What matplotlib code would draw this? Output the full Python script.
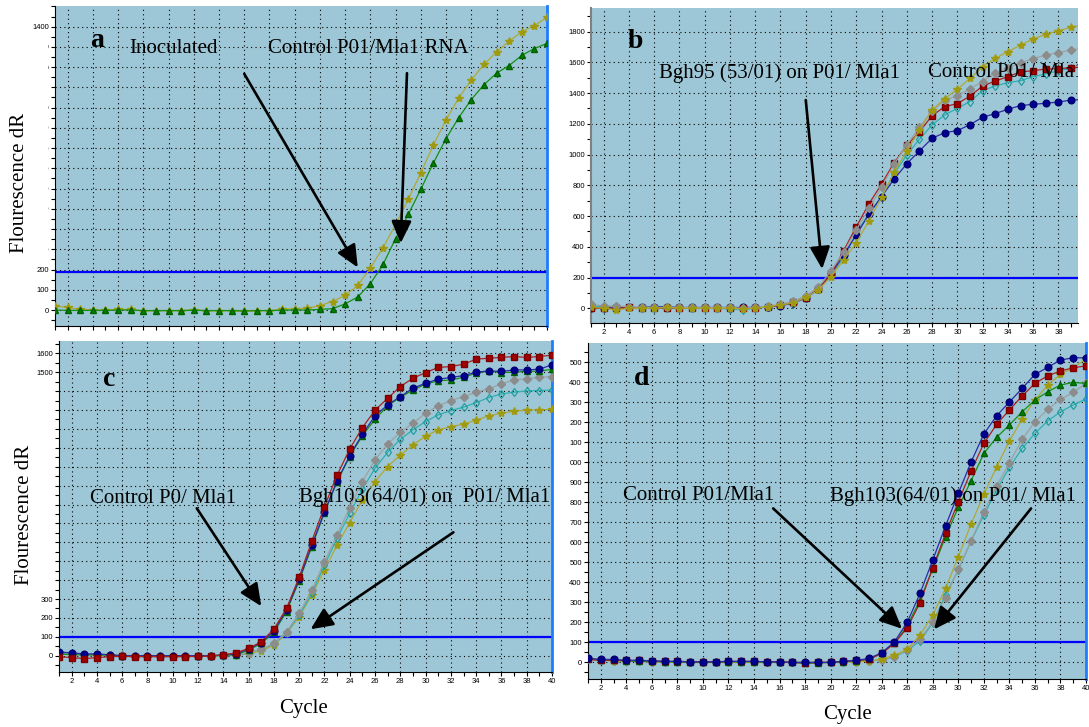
import numpy as np
import matplotlib
matplotlib.use("Agg")
import matplotlib.pyplot as plt
from matplotlib.patches import Rectangle
from matplotlib.ticker import MultipleLocator

# ----------
# DONNEES

cycles = np.arange(1, 41)

# panneau a
a_olive = [20, 13, 3, 0, 0, 3, 3, -5, -3, -3, -3, 2, -5, -3, -3, -7, -3, -3, 3, 7,
           8, 22, 42, 73, 122, 208, 308, 423, 547, 678, 817, 940, 1047, 1137, 1213,
           1275, 1328, 1375, 1405, 1447]
a_green = [0, -2, -2, -2, -2, 0, 0, -3, -3, -3, -3, -1, -3, -3, -3, -5, -3, -3, -1, 0,
           0, 3, 7, 30, 65, 130, 225, 353, 472, 597, 727, 847, 950, 1040, 1113,
           1170, 1208, 1258, 1292, 1317]

# panneau b
b_olive = [5, 0, -10, 0, 0, 0, 5, 0, 0, 0, 0, 0, -5, 0, 10, 20, 35, 70, 119, 206,
           314, 427, 568, 722, 885, 1026, 1160, 1290, 1364, 1425, 1496, 1572, 1627,
           1670, 1713, 1752, 1783, 1806, 1828, 1845]
b_gray = [25, 15, 15, 10, 5, 5, 5, 5, 5, 5, 5, 5, 0, 5, 15, 25, 45, 80, 137, 245,
          364, 510, 651, 787, 939, 1063, 1178, 1284, 1355, 1381, 1429, 1475, 1533,
          1561, 1598, 1624, 1648, 1663, 1681, 1692]
b_red = [0, 0, 0, 5, 0, 0, 0, 0, 0, 0, 0, 0, 0, 0, 10, 20, 40, 69, 124, 223,
         375, 531, 679, 809, 948, 1060, 1149, 1253, 1312, 1332, 1381, 1446, 1479,
         1507, 1538, 1546, 1557, 1559, 1566, 1570]
b_navy = [0, 0, 5, 5, 5, 10, 10, 5, 5, 5, 5, 5, 5, 5, 10, 15, 35, 65, 124, 223,
          347, 477, 612, 727, 841, 941, 1024, 1106, 1143, 1156, 1195, 1243, 1267,
          1295, 1319, 1327, 1334, 1342, 1355, 1358]
b_teal = [15, 10, 10, 5, 0, 0, 0, 0, 0, 0, 0, -5, -10, 0, 10, 20, 30, 70, 128, 215,
          332, 488, 618, 727, 874, 998, 1100, 1193, 1258, 1301, 1345, 1416, 1447,
          1468, 1481, 1507, 1525, 1546, 1561, 1570]

# panneau c
c_red = [-5, -10, -15, -10, -5, -3, -5, -5, -5, -5, -5, -3, -3, 5, 15, 39, 74, 141,
         251, 415, 607, 789, 955, 1094, 1207, 1299, 1362, 1424, 1468, 1498, 1525,
         1530, 1542, 1569, 1574, 1578, 1583, 1578, 1583, 1590]
c_navy = [20, 15, 10, 10, 5, 0, 0, 0, 0, 0, 0, 0, 0, 5, 10, 35, 69, 131, 242, 404,
          586, 762, 925, 1059, 1172, 1269, 1327, 1371, 1415, 1442, 1463, 1472, 1482,
          1500, 1507, 1504, 1512, 1512, 1516, 1539]
c_green = [10, 5, 5, 5, 3, 0, -3, 0, 0, 0, 0, 0, 0, 3, 5, 30, 65, 124, 233, 397,
           577, 757, 921, 1054, 1165, 1251, 1322, 1368, 1405, 1438, 1454, 1459, 1473,
           1496, 1505, 1498, 1500, 1505, 1505, 1516]
c_gray = [20, 10, 5, 5, 5, 3, 0, 0, 0, -3, -3, 0, 0, 3, 5, 16, 34, 65, 127, 224,
          348, 498, 639, 784, 921, 1036, 1121, 1181, 1230, 1283, 1322, 1350, 1371,
          1394, 1412, 1438, 1459, 1465, 1472, 1477]
c_teal = [15, 10, 5, 5, 3, 0, 0, 0, 0, -3, -3, 0, 0, 0, 3, 16, 34, 62, 122, 215,
          330, 480, 621, 754, 881, 992, 1076, 1145, 1195, 1239, 1274, 1297, 1315,
          1339, 1366, 1385, 1394, 1401, 1403, 1406]
c_olive = [15, 10, 5, 5, 3, 0, 0, 0, 0, -3, -3, 0, 0, 0, 3, 10, 26, 56, 118, 206,
           321, 454, 586, 704, 824, 921, 1001, 1062, 1115, 1163, 1195, 1212, 1225,
           1247, 1269, 1283, 1293, 1300, 1300, 1304]

# panneau d
d_navy = [20, 15, 15, 10, 10, 8, 5, 5, 3, 3, 3, 5, 5, 5, 3, 3, 0, 0, 0, 0,
          5, 10, 20, 48, 103, 200, 345, 512, 682, 845, 1002, 1142, 1233, 1302,
          1370, 1440, 1475, 1512, 1523, 1523]
d_red = [15, 10, 12, 10, 10, 8, 5, 5, 3, 3, 3, 5, 5, 5, 3, 3, 0, -3, 0, 0,
         5, 10, 15, 45, 95, 173, 298, 473, 645, 803, 957, 1095, 1190, 1262,
         1332, 1395, 1433, 1457, 1473, 1483]
d_green = [20, 12, 10, 8, 5, 5, 3, 3, 0, 0, 0, 3, 3, 3, 0, 0, 0, -5, -3, 0,
           3, 8, 15, 48, 95, 183, 312, 467, 628, 775, 908, 1045, 1125, 1187,
           1253, 1312, 1353, 1387, 1400, 1395]
d_olive = [15, 12, 8, 5, 5, 3, 3, 0, 0, 0, 0, 0, 0, 0, 0, 0, 0, 0, 0, 0,
           0, 3, 8, 15, 37, 65, 137, 237, 370, 528, 692, 840, 978, 1107,
           1217, 1312, 1387, 1440, 1473, 1517]
d_gray = [20, 12, 8, 5, 5, 3, 3, 0, 0, 0, 0, 0, 0, 0, 0, 0, 0, 0, 0, 0,
          0, 3, 8, 12, 28, 62, 117, 203, 323, 465, 608, 753, 882, 998,
          1115, 1203, 1265, 1315, 1350, 1395]
d_teal = [18, 12, 8, 5, 5, 3, 3, 0, 0, 0, 0, 0, 0, 0, 0, 0, 0, 0, 0, 0,
          0, 3, 8, 12, 28, 58, 108, 198, 337, 462, 607, 737, 862, 975,
          1070, 1145, 1207, 1253, 1287, 1317]

d_ylabels = ['0', '100', '200', '300', '400', '500', '600', '700', '800', '900',
             '000', '100', '200', '300', '400', '500']

# ----------
# STYLES

W, H = 1089, 727
BG = '#9dc7d6'
SERIF = 'Liberation Serif'

STYLES = {
    'red':   dict(color='#a82020', marker='s', mfc='#a00000', mec='#7a0000', ms=4.8),
    'navy':  dict(color='#2a2aa8', marker='o', mfc='#000090', mec='#000070', ms=4.8),
    'green': dict(color='#129012', marker='^', mfc='#008000', mec='#006000', ms=5),
    'gray':  dict(color='#a0a0a0', marker='D', mfc='#8c8c8c', mec='#8c8c8c', ms=3.8),
    'teal':  dict(color='#2eb0b0', marker='d', mfc='none', mec='#1a9a9a', ms=4.5, mew=0.8),
    'olive': dict(color='#b0a838', marker='*', mfc='#a09a10', mec='#a09a10', ms=6),
}


def px_axes(left, top, right, bottom):
    return fig.add_axes([left / W, 1 - bottom / H, (right - left) / W, (bottom - top) / H])


def trace(ax, y, name):
    ax.plot(cycles, y, lw=0.9, zorder=3, **STYLES[name])


def habiller(ax, ylim, xmax, ymaj, ymin, xlabels=True, spine='black', droite=True):
    ax.set_facecolor(BG)
    ax.set_xlim(1, xmax)
    ax.set_ylim(*ylim)
    ax.xaxis.set_major_locator(MultipleLocator(2))
    ax.xaxis.set_minor_locator(MultipleLocator(1))
    ax.yaxis.set_major_locator(MultipleLocator(ymaj))
    ax.yaxis.set_minor_locator(MultipleLocator(ymin))
    ax.grid(True, which='major', color='black', lw=0.8, ls=(0, (1, 3)))
    ax.set_axisbelow(True)
    ax.tick_params(which='both', direction='out', length=3, width=0.8,
                   labelsize=5.5, pad=1.5, colors='black')
    ax.tick_params(which='both', right=False, top=False)
    if not xlabels:
        ax.tick_params(axis='x', labelbottom=False)
    for lbl in ax.get_xticklabels() + ax.get_yticklabels():
        lbl.set_family('Liberation Sans')
    ax.spines['top'].set_visible(False)
    ax.spines['left'].set_color(spine)
    ax.spines['bottom'].set_color('black')
    if droite:
        ax.spines['right'].set_color('#1e7dff')
        ax.spines['right'].set_linewidth(2)
    else:
        ax.spines['right'].set_visible(False)


def fleche(ax, tail, head):
    ax.annotate('', xy=head, xytext=tail, zorder=6,
                arrowprops=dict(arrowstyle='-|>,head_length=0.75,head_width=0.34',
                                color='black', lw=1.9, mutation_scale=18,
                                shrinkA=0, shrinkB=0))


def texte(ax, x, y, s, **kw):
    kw.setdefault('ha', 'center')
    ax.text(x, y, s, family=SERIF, fontsize=15, va='center', zorder=5, **kw)


def lettre(ax, x, y, s):
    ax.text(x, y, s, family=SERIF, fontsize=20, fontweight='bold',
            ha='center', va='center', zorder=5)


fig = plt.figure(figsize=(W / 100, H / 100), dpi=100)
fig.patch.set_facecolor('white')

# ---------- a
ax_a = px_axes(55, 6, 547, 326)
habiller(ax_a, (-79, 1502), 40, 100, 50, xlabels=False)
ax_a.set_yticks(np.arange(0, 1401, 100))
trace(ax_a, a_olive, 'olive')
trace(ax_a, a_green, 'green')
ax_a.axhline(190, color='#0000ff', lw=1.6, zorder=2)
lettre(ax_a, 4.3, 1333, 'a')
texte(ax_a, 10.4, 1292, 'Inoculated')
texte(ax_a, 25.8, 1292, 'Control P01/Mla1 RNA')
fleche(ax_a, (16.0, 1167), (25.0, 210))
fleche(ax_a, (28.9, 1170), (28.4, 330))

# ---------- b
ax_b = px_axes(591, 8, 1078, 323)
habiller(ax_b, (-96, 1954), 39.55, 200, 100, spine='#808080', droite=False)
ax_b.spines['left'].set_linewidth(1.5)
for nom, y in [('teal', b_teal), ('navy', b_navy), ('red', b_red),
               ('gray', b_gray), ('olive', b_olive)]:
    trace(ax_b, y, nom)
ax_b.axhline(195, color='#0000ff', lw=1.6, zorder=2)
lettre(ax_b, 4.55, 1735, 'b')
texte(ax_b, 15.9, 1533, 'Bgh95 (53/01) on P01/ Mla1')
texte(ax_b, 27.67, 1533, 'Control P01/ Mla1', ha='left', clip_on=True)
fleche(ax_b, (18.0, 1355), (19.3, 255))

# ---------- c
ax_c = px_axes(59, 341, 552, 672)
habiller(ax_c, (-86, 1665), 40, 100, 50)
for nom, y in [('olive', c_olive), ('teal', c_teal), ('gray', c_gray),
               ('green', c_green), ('navy', c_navy), ('red', c_red)]:
    trace(ax_c, y, nom)
ax_c.axhline(100, color='#0000ff', lw=1.6, zorder=2)
lettre(ax_c, 5.0, 1459, 'c')
texte(ax_c, 9.2, 833, 'Control P0/ Mla1')
texte(ax_c, 29.9, 840, 'Bgh103(64/01) on  P01/ Mla1')
fleche(ax_c, (11.9, 780), (17.0, 262))
fleche(ax_c, (32.2, 653), (20.9, 140))

# ---------- d
ax_d = px_axes(588, 343, 1086, 679)
habiller(ax_d, (-83, 1597), 40, 100, 50)
ax_d.set_yticks(np.arange(0, 1501, 100))
ax_d.set_yticklabels(d_ylabels, family='Liberation Sans', fontsize=5.5)
for nom, y in [('teal', d_teal), ('gray', d_gray), ('olive', d_olive),
               ('green', d_green), ('red', d_red), ('navy', d_navy)]:
    trace(ax_d, y, nom)
ax_d.axhline(100, color='#0000ff', lw=1.6, zorder=2)
lettre(ax_d, 5.2, 1420, 'd')
texte(ax_d, 9.7, 833, 'Control P01/Mla1')
texte(ax_d, 29.6, 833, 'Bgh103(64/01) on P01/ Mla1')
fleche(ax_d, (15.5, 770), (25.6, 168))
fleche(ax_d, (35.7, 770), (28.1, 165))

# caches blancs sur les graduations (montage d'origine)
for x0, y0, x1, y1 in [(0, 36, 47.5, 262), (0, 380, 54, 590)]:
    fig.add_artist(Rectangle((x0 / W, 1 - y1 / H), (x1 - x0) / W, (y1 - y0) / H,
                             transform=fig.transFigure, facecolor='white',
                             edgecolor='none', zorder=2))

# titres d'axes
fig.text(20 / W, 1 - 183 / H, 'Flourescence dR', rotation=90, family=SERIF,
         fontsize=15, ha='center', va='center', zorder=3)
fig.text(25 / W, 1 - 515 / H, 'Flourescence dR', rotation=90, family=SERIF,
         fontsize=15, ha='center', va='center', zorder=3)
fig.text(303 / W, 1 - 708 / H, 'Cycle', family=SERIF, fontsize=15,
         ha='center', va='center')
fig.text(848 / W, 1 - 715 / H, 'Cycle', family=SERIF, fontsize=15,
         ha='center', va='center')

fig.savefig('out.png', dpi=100, facecolor='white')
